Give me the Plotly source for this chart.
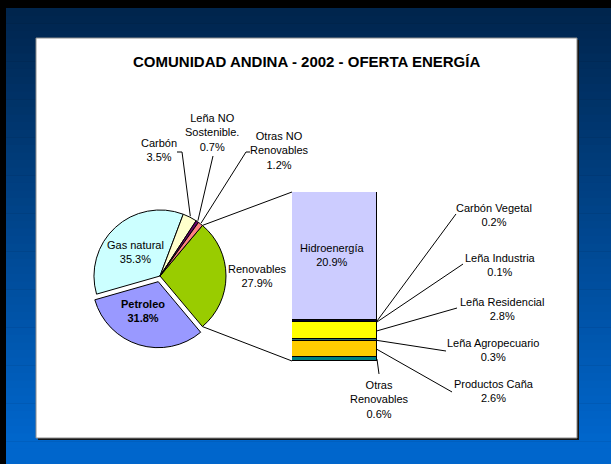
import math
import plotly.graph_objects as go

W, H = 611, 464

# ---------------- data ----------------
pie_labels = ["Renovables", "Petroleo", "Gas natural", "Carbón",
              "Leña NO Sostenible.", "Otras NO Renovables"]
pie_values = [27.9, 31.8, 35.3, 3.5, 0.7, 1.2]
pie_colors = ["#99CC00", "#9999FF", "#CCFFFF", "#FFFFCC", "#660066", "#FF8080"]

bar_labels = ["Hidroenergía", "Carbón Vegetal", "Leña Industria", "Leña Residencial",
              "Leña Agropecuario", "Productos Caña", "Otras Renovables"]
bar_values = [20.9, 0.2, 0.1, 2.8, 0.3, 2.6, 0.6]
bar_colors = ["#CCCCFF", "#000033", "#222222", "#FFFF00", "#2F6F6F", "#FFCC00", "#008080"]

title_text = "COMUNIDAD ANDINA - 2002 - OFERTA ENERGÍA"

# ---------------- layout helpers (pixel -> paper) ----------------
def px(x):
    return x / W

def py(y):
    return 1 - y / H

FONT = "Arial, Liberation Sans, sans-serif"

# pie geometry (pixels)
CX, CY, R = 160, 276, 66
PULL = 0.09
half = R * (1 + PULL)
pie_pull = [PULL if lab == "Petroleo" else 0 for lab in pie_labels]

# bar geometry (pixels)
BX0, BX1, BY0, BY1 = 292, 377, 192, 361
bar_total = sum(bar_values)

fig = go.Figure()

fig.add_trace(go.Pie(
    labels=pie_labels, values=pie_values, sort=False, direction="clockwise",
    rotation=90 - 180 * pie_values[0] / sum(pie_values),
    pull=pie_pull,
    marker=dict(colors=pie_colors, line=dict(color="#000000", width=1)),
    textinfo="none", hoverinfo="label+value", showlegend=False,
    domain=dict(x=[px(CX - half), px(CX + half)], y=[py(CY + half), py(CY - half)]),
))

# stacked bar: bottom first
for lab, val, col in reversed(list(zip(bar_labels, bar_values, bar_colors))):
    fig.add_trace(go.Bar(
        x=[0], y=[val], name=lab, width=1,
        marker=dict(color=col, line=dict(color="#000000", width=1)),
        showlegend=False, hoverinfo="name+y",
    ))

# ---------------- background shapes ----------------
shapes = []
top_c = (0x00, 0x24, 0x4C)
bot_c = (0x00, 0x66, 0xCC)
y_start, y_end = 8, 440
N = 60
for i in range(N):
    ya = y_start + (H - y_start) * i / N
    yb = y_start + (H - y_start) * (i + 1) / N + 0.5
    t = min(1.0, max(0.0, ((ya + yb) / 2 - y_start) / (y_end - y_start)))
    c = tuple(round(a + (b - a) * t) for a, b in zip(top_c, bot_c))
    shapes.append(dict(type="rect", xref="paper", yref="paper", layer="below",
                       x0=px(6), x1=1, y0=py(yb), y1=py(ya),
                       fillcolor="rgb(%d,%d,%d)" % c, line=dict(width=0)))
# shadow + white panel
shapes.append(dict(type="rect", xref="paper", yref="paper", layer="below",
                   x0=px(38), x1=px(579), y0=py(440), y1=py(40),
                   fillcolor="#151515", line=dict(width=0)))
shapes.append(dict(type="rect", xref="paper", yref="paper", layer="below",
                   x0=px(36), x1=px(577), y0=py(438), y1=py(38),
                   fillcolor="#FFFFFF", line=dict(color="#8C8C8C", width=1)))

# ---------------- pie angle helpers ----------------
tot = sum(pie_values)
rot = 90 - 180 * pie_values[0] / tot
edges = [rot]
for v in pie_values:
    edges.append(edges[-1] + 360 * v / tot)

def pie_pt(angle_deg, r=R):
    a = math.radians(angle_deg)
    return CX + r * math.sin(a), CY - r * math.cos(a)

def path(points):
    return "M " + " L ".join("%.4f,%.4f" % (px(x), py(y)) for x, y in points)

def line_shape(points):
    return dict(type="path", xref="paper", yref="paper", layer="above",
                path=path(points), line=dict(color="#000000", width=1))

# connectors pie -> bar
shapes.append(line_shape([pie_pt(edges[0]), (BX0, BY0)]))
shapes.append(line_shape([pie_pt(edges[1]), (BX0, BY1)]))

# leader lines for small pie slices
mid = {lab: (edges[i] + edges[i + 1]) / 2 for i, lab in enumerate(pie_labels)}
shapes.append(line_shape([(177, 152), (182, 152), pie_pt(mid["Carbón"], R + 1)]))
shapes.append(line_shape([(213, 156), pie_pt(mid["Leña NO Sostenible."], R + 1)]))
shapes.append(line_shape([(250, 152), (246, 152), pie_pt(mid["Otras NO Renovables"], R + 1)]))

# leader lines for bar segments
def bar_y(v):
    return BY1 - v / bar_total * (BY1 - BY0)

cum_top = bar_total
seg_mid = {}
for lab, val in zip(bar_labels, bar_values):
    seg_mid[lab] = bar_y(cum_top - val / 2)
    cum_top -= val

bar_leaders = {
    "Carbón Vegetal": (456, 214),
    "Leña Industria": (463, 264),
    "Leña Residencial": (457, 308),
    "Leña Agropecuario": (446, 351),
    "Productos Caña": (452, 392),
    "Otras Renovables": (379, 374),
}
for lab, start in bar_leaders.items():
    shapes.append(line_shape([start, (BX1, seg_mid[lab])]))

# ---------------- text annotations ----------------
def fmt(label, val, brk=None, bold=False):
    name = label.replace(" ", "<br>", 1) if brk else label
    s = "%s<br>%.1f%%" % (name, val)
    return "<b>%s</b>" % s if bold else s

pv = dict(zip(pie_labels, pie_values))
bv = dict(zip(bar_labels, bar_values))

ann_specs = [
    (fmt("Gas natural", pv["Gas natural"]), 135, 252),
    (fmt("Petroleo", pv["Petroleo"], bold=True), 143, 311),
    (fmt("Renovables", pv["Renovables"]), 257, 276),
    (fmt("Carbón", pv["Carbón"]), 159, 150),
    ("Leña NO<br>Sostenible.<br>%.1f%%" % pv["Leña NO Sostenible."], 212, 132),
    ("Otras NO<br>Renovables<br>%.1f%%" % pv["Otras NO Renovables"], 279, 150),
    (fmt("Hidroenergía", bv["Hidroenergía"]), 332, 255),
    (fmt("Carbón Vegetal", bv["Carbón Vegetal"]), 494, 215),
    (fmt("Leña Industria", bv["Leña Industria"]), 500, 265),
    (fmt("Leña Residencial", bv["Leña Residencial"]), 502, 309),
    (fmt("Leña Agropecuario", bv["Leña Agropecuario"]), 493, 350),
    (fmt("Productos Caña", bv["Productos Caña"]), 494, 391),
    (fmt("Otras Renovables", bv["Otras Renovables"], brk=True), 379, 399),
]
annotations = []
for text, x, y in ann_specs:
    annotations.append(dict(text=text, x=px(x), y=py(y), xref="paper", yref="paper",
                            xanchor="center", yanchor="middle", showarrow=False,
                            font=dict(family=FONT, size=11, color="#000000")))
annotations.append(dict(text="<b>%s</b>" % title_text, x=px(306.5), y=py(62),
                        xref="paper", yref="paper", xanchor="center", yanchor="middle",
                        showarrow=False, font=dict(family=FONT, size=15, color="#000000")))

fig.update_layout(
    width=W, height=H, autosize=False,
    margin=dict(l=0, r=0, t=0, b=0),
    paper_bgcolor="#000000", plot_bgcolor="rgba(0,0,0,0)",
    barmode="stack", bargap=0,
    xaxis=dict(domain=[px(BX0), px(BX1)], range=[-0.5, 0.5], visible=False, fixedrange=True),
    yaxis=dict(domain=[py(BY1), py(BY0)], range=[0, bar_total], visible=False, fixedrange=True),
    shapes=shapes, annotations=annotations,
    font=dict(family=FONT, size=11, color="#000000"),
    showlegend=False,
)

fig.write_html("out.html", config=dict(displayModeBar=False),
               post_script="document.body.style.margin='0';document.body.style.overflow='hidden';")
